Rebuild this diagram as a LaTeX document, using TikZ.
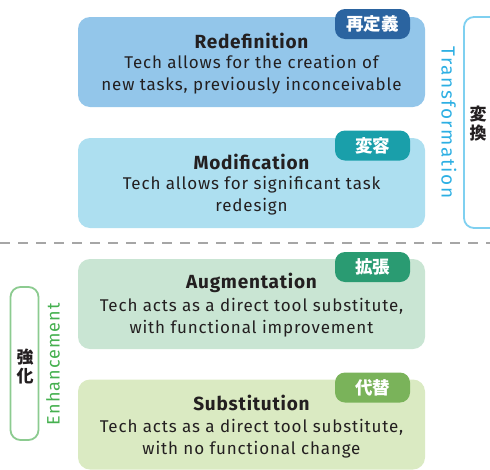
\documentclass[tikz,border=0pt]{standalone}
\usepackage{fontspec}
\setmainfont{Fira Sans}
\newfontfamily\cjk{Noto Sans CJK JP}
\definecolor{redefbg}{HTML}{93C6EA}
\definecolor{redeftag}{HTML}{2B64A0}
\definecolor{modifbg}{HTML}{ADDFF0}
\definecolor{modiftag}{HTML}{1A9FAA}
\definecolor{augmbg}{HTML}{C9E5D3}
\definecolor{augmtag}{HTML}{2A9B72}
\definecolor{substbg}{HTML}{DAEAC2}
\definecolor{substtag}{HTML}{7AB35A}
\definecolor{transcol}{HTML}{2DAFE3}
\definecolor{transline}{HTML}{7FD0F0}
\definecolor{enhcol}{HTML}{45B04F}
\definecolor{enhline}{HTML}{8CCB90}
\definecolor{textcol}{HTML}{231F20}
\tikzset{
	level/.style={rounded corners=12pt, minimum width=347pt, minimum height=90pt, inner sep=0pt},
	tag/.style={rounded corners=10pt, minimum width=75pt, minimum height=30pt, inner sep=0pt,
		text=white, font=\cjk\fontsize{17.5}{17.5}\selectfont\bfseries},
	title/.style={text=textcol, font=\fontsize{19}{19}\selectfont\bfseries\addfontfeature{LetterSpace=4}},
	desc/.style={text=textcol, align=center, font=\fontsize{17}{22}\selectfont\addfontfeature{LetterSpace=5}},
	sidekanji/.style={text=textcol, align=center, font=\cjk\fontsize{17}{19}\selectfont\bfseries},
}
\begin{document}
\begin{tikzpicture}[x=1pt,y=-1pt]
		\useasboundingbox (0,0) rectangle (490,469);
		% four levels
		\node [level, fill=redefbg] at (251.5,62) (redef) {};
		\node [level, fill=modifbg] at (251.5,183) (modif) {};
		\node [level, fill=augmbg] at (251.5,304) (augm) {};
		\node [level, fill=substbg] at (251.5,424.5) (subst) {};
		\node [tag, fill=redeftag] at (372.5,24) (redeftg) {再定義};
		\node [tag, fill=modiftag] at (372.5,145.5) (modiftg) {変容};
		\node [tag, fill=augmtag] at (372.5,267) (augmtg) {拡張};
		\node [tag, fill=substtag] at (372.5,387.5) (substtg) {代替};
		\node [title] at (251.5,41) (redefttl) {Redefinition};
		\node [desc] at (251.5,75) (redefdsc) {Tech allows for the creation of\\new tasks, previously inconceivable};
		\node [title] at (251.5,162) (modifttl) {Modification};
		\node [desc] at (251.5,196) (modifdsc) {Tech allows for significant task\\redesign};
		\node [title] at (251.5,283) (augmttl) {Augmentation};
		\node [desc] at (251.5,317.5) (augmdsc) {Tech acts as a direct tool substitute,\\with functional improvement};
		\node [title] at (251.5,403) (substttl) {Substitution};
		\node [desc] at (251.5,438.5) (substdsc) {Tech acts as a direct tool substitute,\\with no functional change};
		% divider
		\draw [gray!70, line width=1.5pt, dash pattern=on 10pt off 8pt] (0,243) -- (490,243);
		% transformation bracket
		\draw [transline, line width=1.8pt, rounded corners=10pt] (500,17) -- (464,17) -- (464,228) -- (500,228);
		\node [text=transcol, rotate=-90, font=\fontsize{19}{19}\selectfont\addfontfeature{LetterSpace=8}] at (449,122.5) (trans) {Transformation};
		\node [sidekanji] at (478,123.5) (transkj) {変\\換};
		% enhancement bracket
		\draw [enhline, line width=1.8pt, rounded corners=10pt] (10.5,287) rectangle (38.5,440);
		\node [text=enhcol, rotate=90, font=\fontsize{18}{18}\selectfont\addfontfeature{LetterSpace=6}] at (53,364) (enh) {Enhancement};
		\node [sidekanji] at (25,366.5) (enhkj) {強\\化};
\end{tikzpicture}
\end{document}
